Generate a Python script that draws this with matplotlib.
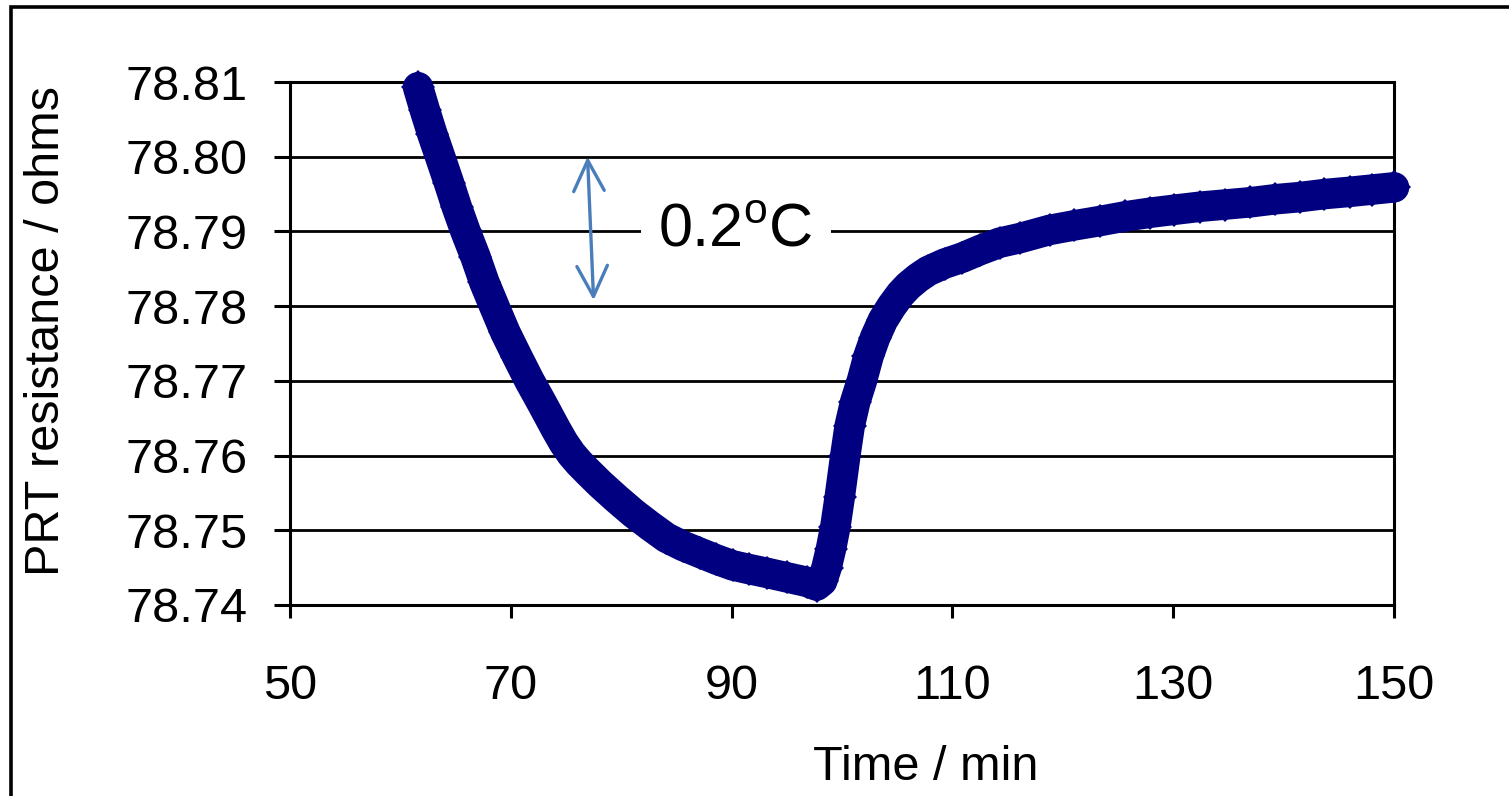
import matplotlib.pyplot as plt
from matplotlib.patches import Rectangle, FancyArrowPatch

plt.rcParams['font.family'] = ['Liberation Sans', 'DejaVu Sans']
plt.rcParams['mathtext.fontset'] = 'custom'
plt.rcParams['mathtext.rm'] = 'Liberation Sans'

# PRT resistance (time in min, resistance in ohms)
time_min = [61.6, 62.2, 62.9, 63.6, 64.4, 65.1, 65.9, 66.8, 67.6, 68.5,
            69.5, 70.6, 71.7, 72.9, 74.1, 74.8, 75.5, 76.2, 77.0, 78.1,
            79.6, 81.1, 82.6, 84.1, 85.6, 87.1, 88.6, 90.1, 91.6, 93.2,
            95.0, 96.8, 97.7, 98.2, 98.6, 99.0, 99.4, 99.8, 100.3, 100.7,
            101.2, 101.8, 102.4, 103.0, 103.7, 104.5, 105.3, 106.0, 106.9, 107.8,
            109.3, 110.9, 112.5, 114.3, 116.1, 118.8, 121.0, 123.4, 125.6, 127.9,
            130.1, 132.4, 134.7, 137.0, 139.2, 141.5, 143.7, 146.0, 148.0, 150.0]
resistance = [78.8093, 78.8063, 78.8030, 78.8000, 78.7965, 78.7933, 78.7900, 78.7866, 78.7832, 78.7800,
              78.7765, 78.7732, 78.7700, 78.7668, 78.7635, 78.7617, 78.7602, 78.7590, 78.7578, 78.7562,
              78.7542, 78.7523, 78.7506, 78.7490, 78.7479, 78.7470, 78.7461, 78.7453, 78.7448, 78.7443,
              78.7437, 78.7431, 78.7426, 78.7432, 78.7450, 78.7475, 78.7505, 78.7545, 78.7600, 78.7640,
              78.7672, 78.7700, 78.7733, 78.7758, 78.7781, 78.7800, 78.7816, 78.7827, 78.7838, 78.7847,
              78.7857, 78.7865, 78.7875, 78.7885, 78.7891, 78.7902, 78.7908, 78.7914, 78.7920, 78.7925,
              78.7929, 78.7933, 78.7936, 78.7939, 78.7943, 78.7946, 78.7950, 78.7953, 78.7956, 78.7959]

y_ticks = [78.74, 78.75, 78.76, 78.77, 78.78, 78.79, 78.80, 78.81]
x_ticks = [50, 70, 90, 110, 130, 150]

fig = plt.figure(figsize=(15.09, 7.96), dpi=100)
ax = fig.add_axes([290 / 1509, 1 - 605 / 796, 1104 / 1509, 523 / 796])

# outer chart frame (runs off the right and bottom of the image)
fig.patches.append(Rectangle((11 / 1509, -0.2), 2, 1.2 - 7 / 796, transform=fig.transFigure,
                             fill=False, edgecolor='black', linewidth=2.6))

ax.plot(time_min, resistance, color='#000080', linewidth=22, solid_capstyle='round',
        solid_joinstyle='round', marker='D', markersize=17, markeredgewidth=0,
        clip_on=False, zorder=3)

ax.set_xlim(50, 150)
ax.set_ylim(78.74, 78.81)
ax.set_xticks(x_ticks)
ax.set_yticks(y_ticks)
ax.set_yticklabels([f'{v:.2f}' for v in y_ticks])
ax.yaxis.grid(True, color='black', linewidth=2.0)
ax.set_axisbelow(True)
for s in ax.spines.values():
    s.set_linewidth(2.2)
ax.tick_params(axis='y', direction='out', length=11.5, width=2.2, pad=19, labelsize=35)
ax.tick_params(axis='x', direction='out', length=9.5, width=2.2, pad=33, labelsize=35)

fig.text(926 / 1509, 1 - 767 / 796, 'Time / min', ha='center', va='center', fontsize=35)
fig.text(47 / 1509, 1 - 331 / 796, 'PRT resistance / ohms', ha='center', va='center',
         rotation=90, fontsize=35)

# 0.2 degC span marker
arrow = FancyArrowPatch((76.95, 78.800), (77.5, 78.7808),
                        arrowstyle='<->,head_length=2.2,head_width=1.1', mutation_scale=10,
                        color='#4a7ebb', linewidth=2.4, shrinkA=0, shrinkB=0, zorder=4)
ax.add_patch(arrow)
ax.text(83.3, 78.7900, r'0.2$^\mathregular{o}$C ', ha='left', va='center', fontsize=44,
        bbox=dict(facecolor='white', edgecolor='none', pad=12), zorder=2)

fig.savefig('out.png', dpi=100)
